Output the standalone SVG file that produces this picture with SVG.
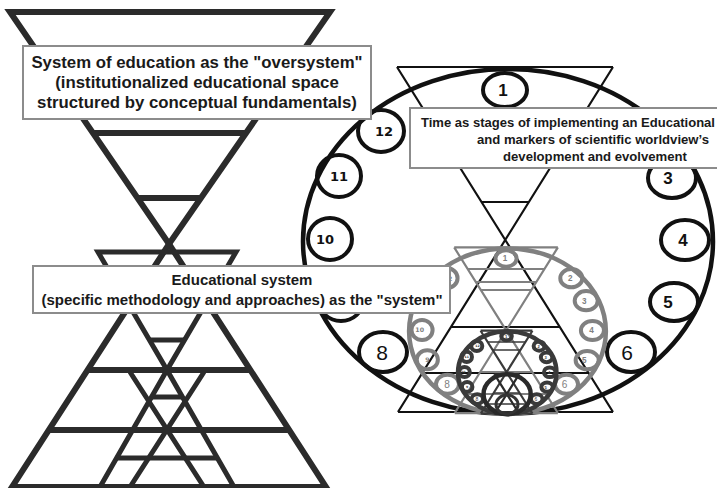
<svg xmlns="http://www.w3.org/2000/svg" xmlns:xlink="http://www.w3.org/1999/xlink" width="717" height="488" viewBox="0 0 717 488">
<style>
.el{fill:none;stroke:currentColor;stroke-width:4.5;vector-effect:non-scaling-stroke}
.tr{fill:none;stroke:currentColor;stroke-width:2.2;vector-effect:non-scaling-stroke}
.rg ellipse{fill:none;stroke:currentColor;stroke-width:4;vector-effect:non-scaling-stroke}
.rg text{fill:currentColor;font-family:"Liberation Sans",Arial,sans-serif;text-anchor:middle}
.rg .b{font-weight:bold;font-size:17px}
.rg .r{font-weight:normal;font-size:21px}
.rg .d{font-family:"DejaVu Sans",sans-serif;font-weight:bold;font-size:13px}
.lf{fill:none;stroke:#2b2b2b;stroke-width:6;stroke-linejoin:miter}
.li{fill:none;stroke:#2b2b2b;stroke-width:5;stroke-linejoin:miter}
.box{fill:#fff;stroke:#8c8c8c;stroke-width:2}
.bt{font-family:"Liberation Sans",Arial,sans-serif;font-weight:bold;fill:#1a1a1a}
</style>
<defs>
<g id="frame">
<ellipse class="el" cx="508" cy="241.5" rx="205" ry="172.5"/>
<path class="tr" d="M397,67H613M398,412H613M397,67L613,412M613,67L398,412"/>
</g>
<g id="rings" class="rg">
<ellipse cx="505" cy="90" rx="22" ry="17"/><text class="b" x="503" y="96">1</text>
<ellipse cx="641" cy="131" rx="23" ry="19"/><text class="b" x="639" y="137">2</text>
<ellipse cx="672" cy="178" rx="24" ry="20"/><text class="b" x="668" y="184">3</text>
<ellipse cx="685" cy="240" rx="24" ry="20"/><text class="b" x="683" y="246">4</text>
<ellipse cx="674" cy="302" rx="24" ry="19"/><text class="b" x="668" y="308">5</text>
<ellipse cx="631" cy="352" rx="24" ry="20"/><text class="r" x="627" y="359.5">6</text>
<ellipse cx="383" cy="352" rx="24" ry="20"/><text class="r" x="382" y="359.5">8</text>
<ellipse cx="341" cy="301" rx="22" ry="20"/><text class="d" x="341" y="306">9</text>
<ellipse cx="330" cy="239" rx="22" ry="21"/><text class="d" x="325" y="244">10</text>
<ellipse cx="339" cy="176" rx="22" ry="21"/><text class="d" x="339" y="181">11</text>
<ellipse cx="381" cy="131" rx="23" ry="21"/><text class="d" x="384" y="136">12</text>
</g>
</defs>

<g id="left-figure">
<path class="lf" d="M10,12H330L169,244Z"/>
<path class="lf" d="M169,244L326,487H12Z"/>
<path class="lf" d="M93,133H246M137,198H201M88,370H250M49,430H289"/>
<path class="li" d="M98,252H236L167,370Z"/>
<path class="li" d="M150,340H184"/>
<path class="li" d="M130,372L204,487M204,372L130,487M167,370L100,487M167,370L234,487"/>
<path class="li" d="M152,397H183M117,458H217"/>
</g>

<g id="right-figure">
<g id="level0" style="color:#111">
<use xlink:href="#frame"/>
<use xlink:href="#rings"/>
<path class="tr" d="M481.5,202H528.9M451,327H559.8M422.3,373H588.6"/>
</g>
<g id="level1" style="color:#808080">
<use xlink:href="#frame" transform="matrix(0.48 0 0 0.48 263.64 215.28)"/>
<use xlink:href="#rings" transform="matrix(0.48 0 0 0.48 263.64 215.28)"/>
<path class="tr" d="M468,269H544.5M476,282H536.3M481,290H531.4M480.3,372H532.2M466.6,394H546"/>
</g>
<g id="level2" style="color:#3a3a3a">
<use xlink:href="#frame" transform="matrix(0.24 0 0 0.24 385.32 314.64)"/>
<use xlink:href="#rings" transform="matrix(0.24 0 0 0.24 385.32 314.64)"/>
<path class="tr" style="stroke-width:1.6" d="M487.6,342H525.4M492.6,350H520.4M493.8,393H519.3M487,404H526.2"/>
</g>
<g id="level3" style="color:#2a2a2a">
<use xlink:href="#frame" transform="matrix(0.115 0 0 0.115 448.695 366.39)"/>
</g>
<g id="level4" style="color:#333">
<ellipse class="el" style="stroke-width:3" cx="507" cy="404.5" rx="11" ry="9.5"/>
</g>
</g>

<g id="oversystem">
<rect class="box" x="23" y="46" width="348" height="73"/>
<text class="bt" font-size="16.8" text-anchor="middle" x="197" y="68">System of education as the "oversystem"</text>
<text class="bt" font-size="16.8" text-anchor="middle" x="197" y="88">(institutionalized educational space</text>
<text class="bt" font-size="16.8" text-anchor="middle" x="197" y="108">structured by conceptual fundamentals)</text>
</g>

<g id="system">
<rect class="box" x="33" y="266" width="417" height="47"/>
<text class="bt" font-size="15" text-anchor="middle" x="242" y="285">Educational system</text>
<text class="bt" font-size="15" text-anchor="middle" x="242" y="305">(specific methodology and approaches) as the "system"</text>
</g>

<g id="time">
<rect class="box" x="410" y="108" width="312" height="60"/>
<text class="bt" font-size="13.2" x="421" y="126.5" textLength="294" lengthAdjust="spacingAndGlyphs">Time as stages of implementing an Educational</text>
<text class="bt" font-size="13.2" x="477" y="143.5" textLength="232" lengthAdjust="spacingAndGlyphs">and markers of scientific worldview’s</text>
<text class="bt" font-size="13.2" x="503" y="160.5" textLength="184" lengthAdjust="spacingAndGlyphs">development and evolvement</text>
</g>
</svg>
